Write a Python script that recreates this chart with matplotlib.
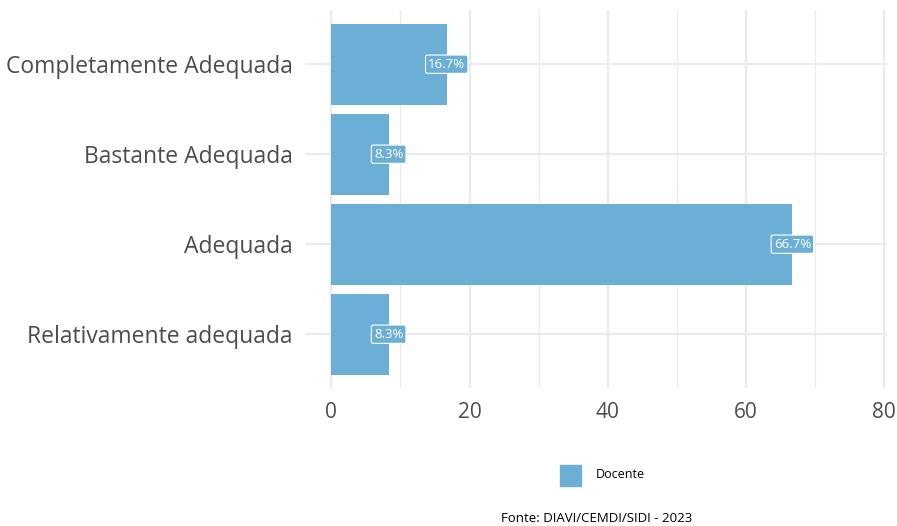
import matplotlib
matplotlib.use("Agg")
import matplotlib.pyplot as plt

plt.rcParams['font.family'] = ['Open Sans', 'DejaVu Sans']

categorias = ['Relativamente adequada', 'Adequada', 'Bastante Adequada', 'Completamente Adequada']
percentuais = [8.3, 66.7, 8.3, 16.7]
rotulos = ['8.3%', '66.7%', '8.3%', '16.7%']
x_ticks = [0, 20, 40, 60, 80]
x_minor = [10, 30, 50, 70]

cor = '#6BAED6'
cinza = '#4D4D4D'

fig = plt.figure(figsize=(8.97, 5.26), dpi=100)
ax = fig.add_axes([0.340, 0.262, 0.649, 0.7186])

pos = list(range(len(categorias)))
ax.barh(pos, percentuais, height=0.9, color=cor, zorder=2)

for y, v, r in zip(pos, percentuais, rotulos):
    ax.text(v, y, r, ha='center', va='center', color='white', fontsize=9.5, zorder=3,
            bbox=dict(boxstyle='round,pad=0.2,rounding_size=0.15', fc=cor, ec='white', lw=0.8))

ax.set_xlim(-3.8, 80.4)
ax.set_ylim(-0.6, 3.6)
ax.set_xticks(x_ticks)
ax.set_xticks(x_minor, minor=True)
ax.set_yticks(pos)
ax.set_yticklabels(categorias)

ax.grid(True, which='major', color='#EBEBEB', lw=1.6, zorder=0)
ax.grid(True, which='minor', axis='x', color='#EBEBEB', lw=0.9, zorder=0)
for s in ax.spines.values():
    s.set_visible(False)
ax.tick_params(axis='both', which='both', length=0, labelsize=15, labelcolor=cinza, pad=8)
ax.tick_params(axis='y', labelsize=16.5, pad=9)
ax.tick_params(axis='x', pad=10)

fig.patches.append(plt.Rectangle((560 / 897, 1 - 486 / 526), 21 / 897, 21 / 526,
                                 transform=fig.transFigure, color=cor))
fig.text(596 / 897, 1 - 475 / 526, 'Docente', fontsize=9, va='center', ha='left', color='black')
fig.text(692 / 897, 1 - 519 / 526, 'Fonte: DIAVI/CEMDI/SIDI - 2023', fontsize=9.5, va='center', ha='right', color='black')

fig.savefig('out.png', dpi=100)
